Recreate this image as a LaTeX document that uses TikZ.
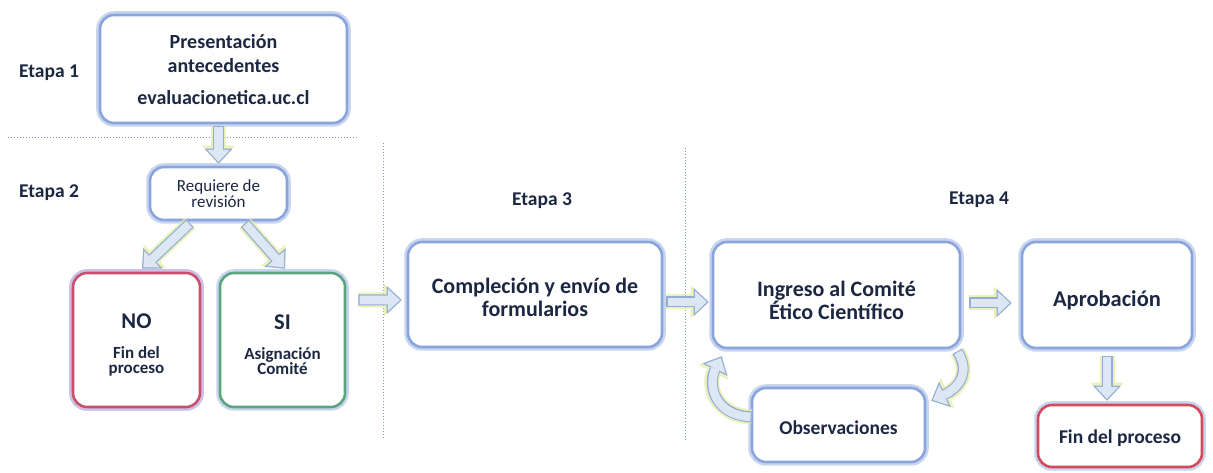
\documentclass[tikz,border=0pt]{standalone}
\usepackage{fontspec}
\setmainfont{Carlito}
\usetikzlibrary{arrows.meta,shadows}

\definecolor{txt}{HTML}{1C2742}
\definecolor{bord}{HTML}{8AA5DC}
\definecolor{bglow}{HTML}{C8D5EF}
\definecolor{nored}{HTML}{C8506E}
\definecolor{noglow}{HTML}{CDBFE6}
\definecolor{sigreen}{HTML}{5BA57E}
\definecolor{finred}{HTML}{D24B5C}
\definecolor{afill}{HTML}{DCE7F3}
\definecolor{aline}{HTML}{93AED3}
\definecolor{aglow}{HTML}{E6EBA6}
\definecolor{dotc}{HTML}{7F95B8}

\tikzset{
  box/.style={rounded corners=14bp, draw=bord, line width=2.6bp, fill=white,
    drop shadow={shadow xshift=1.5bp, shadow yshift=-2.5bp, opacity=0.25, fill=black!60},
    preaction={draw=bglow, line width=7.5bp},
    align=center, text=txt, inner sep=0pt},
  nobox/.style={box, draw=nored, preaction={draw=noglow, line width=7.5bp}},
  sibox/.style={box, draw=sigreen},
  finbox/.style={box, draw=finred},
  stagelabel/.style={text=txt, font=\fontsize{19.5bp}{20bp}\selectfont\bfseries},
  arrA/.style={draw=aglow, line width=15bp, opacity=0.75, line cap=butt,
    -{Triangle[length=18bp,width=33bp,line width=0pt]}},
  arrB/.style={draw=aline, line width=11bp, line cap=butt,
    -{Triangle[length=15bp,width=28bp,line width=0pt]}},
  arrC/.style={draw=afill, line width=8.6bp, line cap=butt, shorten >=1.8bp, shorten <=1.2bp,
    -{Triangle[length=12bp,width=22.4bp,line width=0pt]}},
  sep/.style={draw=dotc, line width=0.9bp, dash pattern=on 1.3bp off 1.7bp}
}
\newcommand\barrow[1]{%
  \draw[arrA] #1;
  \draw[arrB] #1;
  \draw[arrC] #1;}
\newcommand\lw[2][4bp]{\raisebox{-#1}[\height][\depth]{#2}}

\begin{document}
\begin{tikzpicture}[x=1bp,y=-1bp]
\useasboundingbox[fill=white] (0,0) rectangle (1213,473);

% separators
\draw[sep] (8,137) -- (358,137);
\draw[sep] (383,143) -- (383,440);
\draw[sep] (685,148) -- (685,440);

% stage labels
\node[stagelabel] (e1) at (49,73) {Etapa 1};
\node[stagelabel] (e2) at (49,193) {Etapa 2};
\node[stagelabel] (e3) at (542,201) {Etapa 3};
\node[stagelabel] (e4) at (979,200) {Etapa 4};

% boxes
\node[box, minimum width=247bp, minimum height=108bp,
  font=\fontsize{20bp}{24bp}\selectfont\bfseries] (pres) at (223.5,69)
  {\lw[1bp]{Presentación}\\\lw[1bp]{antecedentes}\\[8bp]\lw[1bp]{evaluacionetica.uc.cl}};
\node[box, minimum width=137bp, minimum height=53bp,
  font=\fontsize{17bp}{16bp}\selectfont] (req) at (218.5,193.5)
  {Requiere de\\revisión};
\node[nobox, minimum width=127bp, minimum height=134bp,
  font=\fontsize{17bp}{15bp}\selectfont\bfseries] (no) at (136.5,340)
  {\lw[5bp]{\fontsize{22.5bp}{22bp}\selectfont NO}\\[15bp]\lw[5bp]{Fin del}\\\lw[5bp]{proceso}};
\node[sibox, minimum width=125bp, minimum height=134bp,
  font=\fontsize{17bp}{15bp}\selectfont\bfseries] (si) at (282.5,340)
  {\lw[5bp]{\fontsize{22.5bp}{22bp}\selectfont SI}\\[15bp]\lw[5bp]{Asignación}\\\lw[5bp]{Comité}};
\node[box, minimum width=254bp, minimum height=105bp,
  font=\fontsize{22bp}{23bp}\selectfont\bfseries] (comp) at (535,294.5)
  {\lw[3bp]{Compleción y envío de}\\\lw[3bp]{formularios}};
\node[box, minimum width=247bp, minimum height=106bp,
  font=\fontsize{22bp}{21bp}\selectfont\bfseries] (ing) at (836.5,295)
  {\lw[5bp]{Ingreso al Comité}\\\lw[5bp]{Ético Científico}};
\node[box, minimum width=170bp, minimum height=106bp,
  font=\fontsize{22.5bp}{22bp}\selectfont\bfseries] (apr) at (1107,295)
  {\lw[5bp]{Aprobación}};
\node[box, minimum width=173bp, minimum height=74bp,
  font=\fontsize{19.5bp}{20bp}\selectfont\bfseries] (obs) at (838.5,425)
  {\lw[3bp]{Observaciones}};
\node[finbox, minimum width=164bp, minimum height=62bp,
  font=\fontsize{19.5bp}{20bp}\selectfont\bfseries] (fin) at (1120,436)
  {\lw[2bp]{Fin del proceso}};

% connectors
\coordinate (a1s) at (req.north |- pres.south);
\coordinate (a7e) at (apr.south |- fin.north);
\barrow{([yshift=-2bp]a1s) -- ([yshift=2bp]req.north)}
\barrow{([xshift=-28.5bp,yshift=-2bp]req.south) -- ([xshift=5.5bp,yshift=3bp]no.north)}
\barrow{([xshift=26.5bp,yshift=-2bp]req.south) -- ([xshift=2.5bp,yshift=3bp]si.north)}
\barrow{([xshift=12bp,yshift=40bp]si.east) -- ([xshift=-5bp,yshift=-5.5bp]comp.west)}
\barrow{([xshift=3bp,yshift=-7.5bp]comp.east) -- ([xshift=-3bp,yshift=-7bp]ing.west)}
\barrow{([xshift=8bp,yshift=-8bp]ing.east) -- ([xshift=-9bp,yshift=-8bp]apr.west)}
\barrow{([yshift=-7bp]apr.south) -- ([yshift=3bp]a7e)}
\barrow{([xshift=-4bp,yshift=-2bp]ing.south east) .. controls +(14,22) and +(26,-12) .. ([xshift=5bp,yshift=-14bp]obs.north east)}
\barrow{([xshift=1bp,yshift=8bp]obs.west) .. controls +(-38,-2) and +(-14,28) .. ([xshift=10bp,yshift=-7bp]ing.south west)}
\end{tikzpicture}
\end{document}
